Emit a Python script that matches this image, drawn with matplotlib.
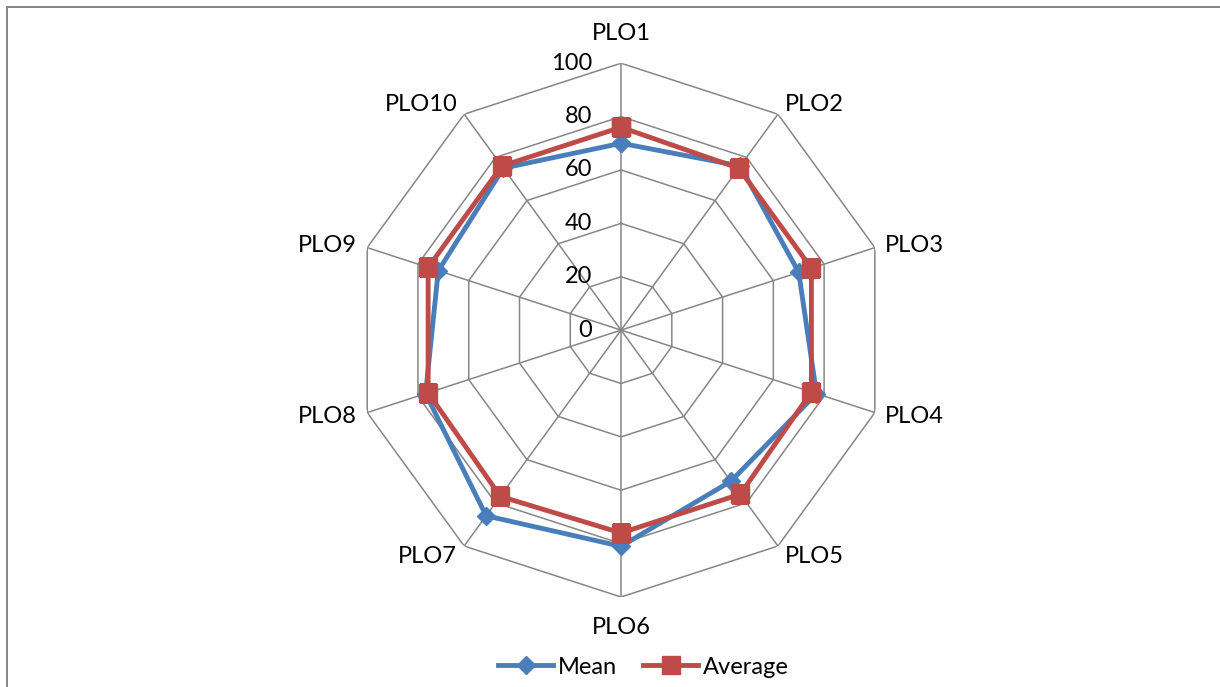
import numpy as np
import matplotlib.pyplot as plt
from matplotlib.lines import Line2D

plt.rcParams['font.family'] = ['Lato', 'DejaVu Sans']

# datos
categorias = ["PLO1", "PLO2", "PLO3", "PLO4", "PLO5",
              "PLO6", "PLO7", "PLO8", "PLO9", "PLO10"]
mean_vals = [70, 76, 70, 77, 70, 81, 86, 77, 72, 75]
average_vals = [76, 75, 75, 75, 76, 76, 77, 76, 76, 76]
niveles = [0, 20, 40, 60, 80, 100]

azul = "#4A7EBB"
rojo = "#BE4B48"
gris = "#868686"

n = len(categorias)
ang = np.linspace(0, 2 * np.pi, n, endpoint=False)
ang_c = np.append(ang, ang[0])

fig = plt.figure(figsize=(12.2, 6.87), dpi=100)
ax = fig.add_axes([0.2902, 0.131, 0.4377, 0.777], projection='polar')
ax.set_theta_offset(np.pi / 2)
ax.set_theta_direction(-1)
ax.set_ylim(0, 100)
ax.grid(False)
ax.spines['polar'].set_visible(False)
ax.patch.set_visible(False)
ax.set_xticks([])
ax.set_yticks([])

# rejilla poligonal
for nv in niveles[1:]:
    ax.plot(ang_c, [nv] * (n + 1), color=gris, lw=1.1, zorder=1)
for a in ang:
    ax.plot([a, a], [0, 100], color=gris, lw=1.1, zorder=1)

# etiquetas del eje radial
for nv in niveles:
    ax.annotate(str(nv), xy=(0, nv), xytext=(-29, 0), textcoords='offset pixels',
                ha='right', va='center', fontsize=17, color='black')

# etiquetas de categorias
offsets = [(0, 30, 'center'), (7, 10, 'left'), (10, 2, 'left'), (10, -4, 'left'),
           (7, -10, 'left'), (0, -30, 'center'), (-7, -10, 'right'),
           (-10, -4, 'right'), (-10, 2, 'right'), (-7, 10, 'right')]
for a, lab, (ox, oy, ha) in zip(ang, categorias, offsets):
    ax.annotate(lab, xy=(a, 100), xytext=(ox, oy), textcoords='offset pixels',
                ha=ha, va='center', fontsize=17, color='black')

# series
ax.plot(ang_c, mean_vals + mean_vals[:1], color=azul, lw=3.5, marker='D',
        markersize=9, label='Mean', zorder=3)
ax.plot(ang_c, average_vals + average_vals[:1], color=rojo, lw=3.5, marker='s',
        markersize=13, label='Average', zorder=4)

fig.legend(loc='center', bbox_to_anchor=(0.5275, 0.029), ncol=2, frameon=False,
           fontsize=17, handlelength=2.33, columnspacing=1.1, handletextpad=0.2)

# borde del grafico
fig.add_artist(Line2D([7 / 1220, 1], [1 - 7 / 687, 1 - 7 / 687], color=gris, lw=1.4,
                      transform=fig.transFigure))
fig.add_artist(Line2D([7 / 1220, 7 / 1220], [0, 1 - 7 / 687], color=gris, lw=1.4,
                      transform=fig.transFigure))

fig.savefig("out.png", dpi=100)
